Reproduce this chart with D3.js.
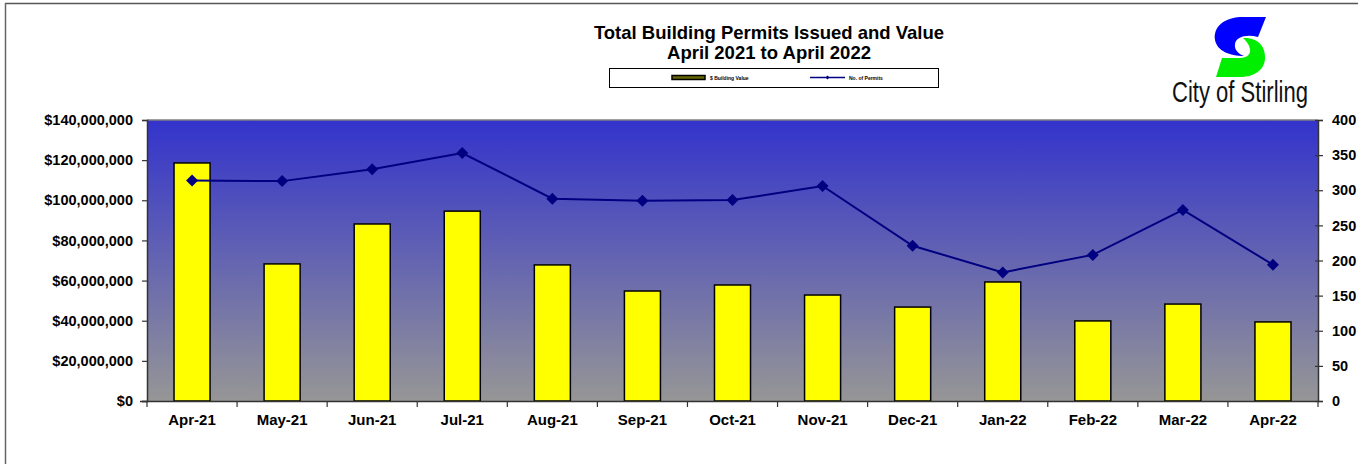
<!DOCTYPE html>
<html>
<head>
<meta charset="utf-8">
<script src="https://cdn.jsdelivr.net/npm/d3@7"></script>
<style>
  body { margin: 0; background: #fff; }
  text { font-family: Arial, "Liberation Sans", sans-serif; }
</style>
</head>
<body>
<script>
// ================= Data ======================
const months = ["Apr-21","May-21","Jun-21","Jul-21","Aug-21","Sep-21","Oct-21",
                "Nov-21","Dec-21","Jan-22","Feb-22","Mar-22","Apr-22"];
const buildingValue = [118600000, 68300000, 88200000, 94600000, 67800000, 54800000,
                       57800000, 52800000, 46800000, 59300000, 39900000, 48300000, 39400000];
const permits = [314, 313, 330, 353, 288, 285, 286, 306, 221, 183, 208, 272, 194];
const valueTicks = [0, 20000000, 40000000, 60000000, 80000000, 100000000, 120000000, 140000000];
const permitTicks = [0, 50, 100, 150, 200, 250, 300, 350, 400];

// ================= Layout ======================
const W = 1358, H = 464;
const svg = d3.select("body").append("svg").attr("width", W).attr("height", H);
const margin = {left: 147, right: 40, top: 120, bottom: 63};
const width = W - margin.left - margin.right;
const height = H - margin.top - margin.bottom;

// page frame
svg.append("line").attr("x1", 5).attr("y1", 3.5).attr("x2", W).attr("y2", 3.5)
   .attr("stroke", "#555").attr("stroke-width", 1.5);
svg.append("line").attr("x1", 5.5).attr("y1", 3).attr("x2", 5.5).attr("y2", H)
   .attr("stroke", "#666").attr("stroke-width", 1.5);

// gradient background
const defs = svg.append("defs");
const grad = defs.append("linearGradient").attr("id", "bg")
    .attr("x1", 0).attr("y1", 0).attr("x2", 0).attr("y2", 1);
grad.append("stop").attr("offset", "0%").attr("stop-color", "#3333cc");
grad.append("stop").attr("offset", "100%").attr("stop-color", "#969696");

const g = svg.append("g").attr("transform", `translate(${margin.left},${margin.top})`);

g.append("rect").attr("width", width).attr("height", height).attr("fill", "url(#bg)");
g.append("line").attr("x1", 0).attr("x2", width).attr("y1", 0).attr("y2", 0)
 .attr("stroke", "#808080").attr("stroke-width", 1.5);

// ================= Scales ======================
const x = d3.scaleBand().domain(months).range([0, width]).paddingInner(0).paddingOuter(0);
const yL = d3.scaleLinear().domain([0, 140000000]).range([height, 0]);
const yR = d3.scaleLinear().domain([0, 400]).range([height, 0]);

// ================= Bars ======================
const barW = x.bandwidth() * 0.4;
g.selectAll(".bar").data(buildingValue).join("rect")
  .attr("class", "bar")
  .attr("x", (d, i) => x(months[i]) + (x.bandwidth() - barW) / 2)
  .attr("y", d => yL(d))
  .attr("width", barW)
  .attr("height", d => height - yL(d))
  .attr("fill", "#ffff00")
  .attr("stroke", "#000").attr("stroke-width", 1.5);

// ================= Line ======================
const line = d3.line()
  .x((d, i) => x(months[i]) + x.bandwidth() / 2)
  .y(d => yR(d));
g.append("path").attr("d", line(permits))
  .attr("fill", "none").attr("stroke", "#000080").attr("stroke-width", 2);
g.selectAll(".pt").data(permits).join("path")
  .attr("class", "pt")
  .attr("transform", (d, i) => `translate(${x(months[i]) + x.bandwidth() / 2},${yR(d)})`)
  .attr("d", "M0,-6L6,0L0,6L-6,0Z")
  .attr("fill", "#000080");

// ================= Axes ======================
const fmt = d => "$" + d3.format(",")(d);
const axL = g.append("g").call(d3.axisLeft(yL).tickValues(valueTicks).tickFormat(fmt).tickSize(5).tickPadding(9));
const axR = g.append("g").attr("transform", `translate(${width},0)`)
  .call(d3.axisRight(yR).tickValues(permitTicks).tickSize(5).tickPadding(9));
const axX = g.append("g").attr("transform", `translate(0,${height})`)
  .call(d3.axisBottom(x).tickSize(0).tickPadding(13));

[axL, axR, axX].forEach(a => {
  a.select(".domain").attr("stroke", "#333").attr("stroke-width", 1.5);
  a.selectAll("text").attr("font-size", 14.5).attr("font-weight", "bold").attr("fill", "#000")
   .attr("font-family", "Arial, 'Liberation Sans', sans-serif");
  a.selectAll(".tick line").attr("stroke", "#333").attr("stroke-width", 1.2);
});
axX.selectAll("text").attr("font-size", 15);
axR.selectAll(".tick line").attr("x1", -3);
axX.select(".domain").attr("d", `M-7,0.5H${width}`);

// category boundary ticks on x axis
g.append("g").attr("transform", `translate(0,${height})`)
  .selectAll("line").data(months.concat(["end"])).join("line")
  .attr("x1", (d, i) => i * x.bandwidth()).attr("x2", (d, i) => i * x.bandwidth())
  .attr("y1", 0).attr("y2", 6).attr("stroke", "#333").attr("stroke-width", 1.2);

// ================= Title ======================
const title = svg.append("g").attr("text-anchor", "middle")
  .attr("font-size", 18.5).attr("font-weight", "bold");
title.append("text").attr("x", 769).attr("y", 39).text("Total Building Permits Issued and Value");
title.append("text").attr("x", 769).attr("y", 59).text("April 2021 to April 2022");

// ================= Legend ======================
const lg = svg.append("g").attr("transform", "translate(609,68)");
lg.append("rect").attr("x", 0.5).attr("y", 0.5).attr("width", 329).attr("height", 19)
  .attr("fill", "#fff").attr("stroke", "#000").attr("stroke-width", 1);
lg.append("rect").attr("x", 63).attr("y", 7.5).attr("width", 33).attr("height", 4)
  .attr("fill", "#666600").attr("stroke", "#000").attr("stroke-width", 1.5);
lg.append("text").attr("x", 101).attr("y", 12).attr("font-size", 5).attr("font-weight", "bold")
  .text("$ Building Value");
lg.append("line").attr("x1", 201).attr("x2", 236).attr("y1", 9.5).attr("y2", 9.5)
  .attr("stroke", "#000080").attr("stroke-width", 1.5);
lg.append("path").attr("transform", "translate(218.5,9.5)").attr("d", "M0,-2L2,0L0,2L-2,0Z")
  .attr("fill", "#000080");
lg.append("text").attr("x", 240).attr("y", 12).attr("font-size", 5).attr("font-weight", "bold")
  .text("No. of Permits");

// ================= Logo ======================
// blue upper half of the S
svg.append("path")
  .attr("d", "M1266,17 L1258,37 C1246,34 1236,37 1235,44 C1234,50 1239,54 1244,56 C1230,56 1217,51 1215,40 C1213,27 1224,18 1240,17 Z")
  .attr("fill", "#0000ff");
// green lower half of the S
svg.append("path")
  .attr("d", "M1243,38 C1258,37 1266,47 1265,59 C1264,71 1253,77 1240,77 L1216,77 L1222,58 L1240,58 C1247,58 1251,54 1250,49 C1249,44 1246,41 1243,38 Z")
  .attr("fill", "#00ee00");
svg.append("text").attr("x", 1172).attr("y", 102)
  .attr("font-family", "'Liberation Sans', Arial, sans-serif")
  .attr("font-size", 29).attr("textLength", 136).attr("lengthAdjust", "spacingAndGlyphs")
  .attr("fill", "#111")
  .text("City of Stirling");
</script>
</body>
</html>
